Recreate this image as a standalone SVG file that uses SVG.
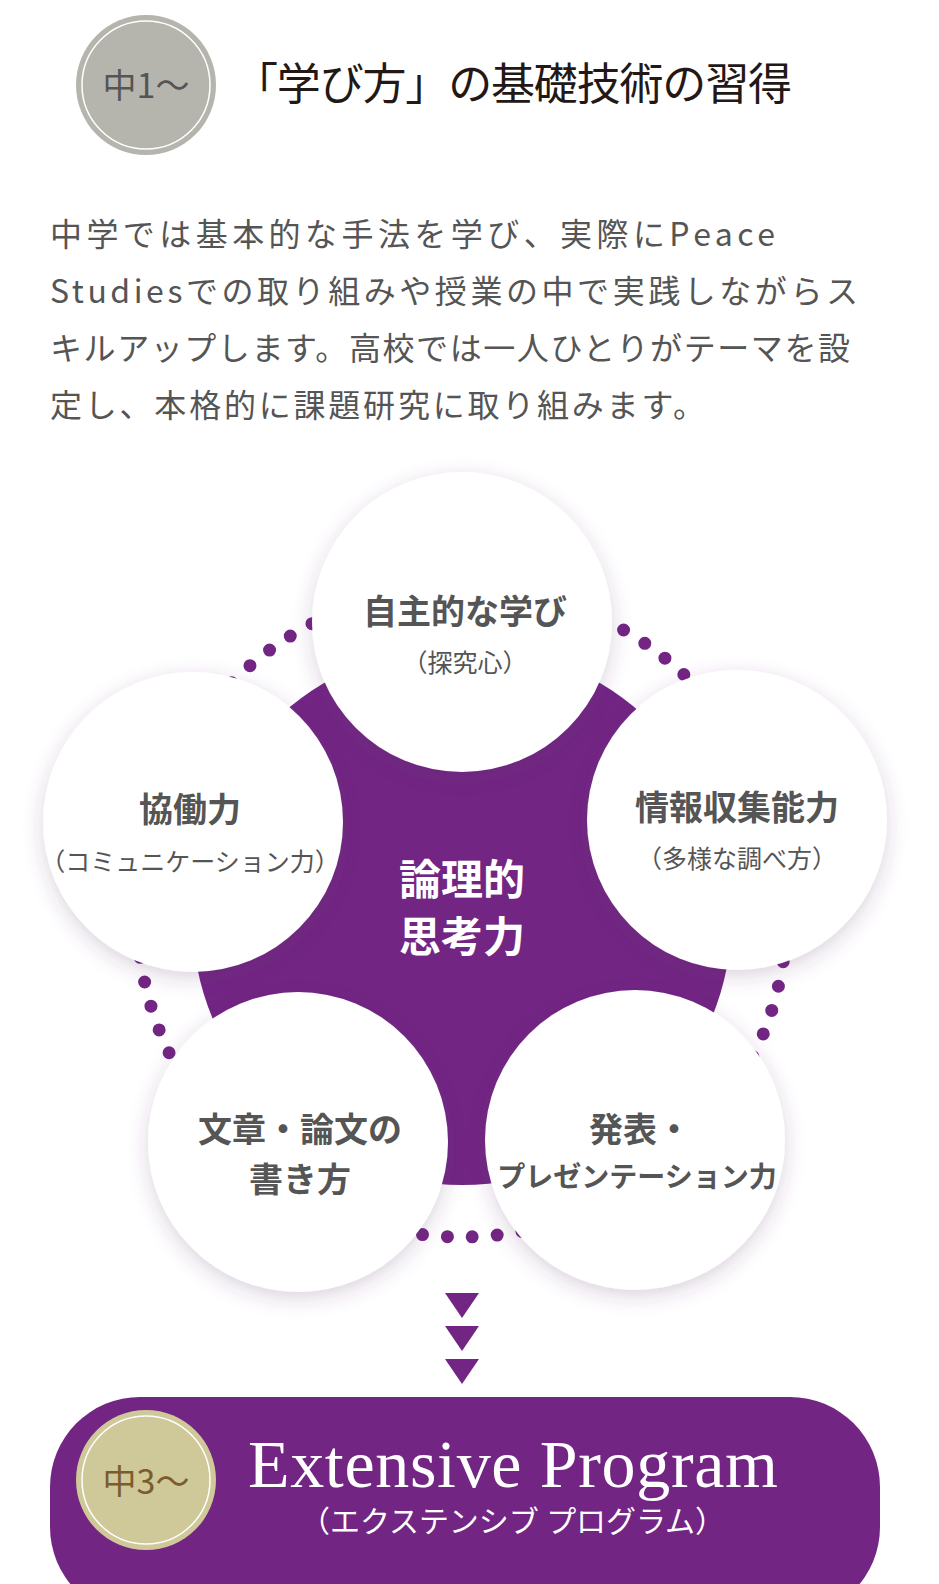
<svg xmlns="http://www.w3.org/2000/svg" width="939" height="1584" viewBox="0 0 939 1584">
<defs>
<filter id="sh" x="-30%" y="-30%" width="160%" height="160%"><feDropShadow dx="0" dy="6" stdDeviation="10" flood-color="#5a3a6a" flood-opacity="0.22"/></filter>
</defs>
<style>
.jp{font-family:"Noto Sans CJK JP","Noto Sans",sans-serif}
.nb{font-family:"Noto Sans CJK JP",sans-serif;font-weight:bold;fill:#555;text-anchor:middle}
.ns{font-family:"Noto Sans CJK JP",sans-serif;fill:#555;text-anchor:middle}
.wc{fill:#fff;filter:url(#sh)}
</style>
<rect width="939" height="1584" fill="#fff"/>
<g id="header">
<circle cx="146" cy="85" r="70" fill="#b5b5ae"/>
<circle cx="146" cy="85" r="64" fill="none" stroke="#fff" stroke-width="1.5"/>
<text x="146" y="98" class="jp" font-size="34" fill="#555" text-anchor="middle">中1～</text>
<text x="234" y="100" font-family="'Liberation Serif','Noto Sans CJK JP',serif" font-size="44" fill="#231815" textLength="558">「学び方」の基礎技術の習得</text>
</g>
<g id="intro" class="jp" font-size="32" fill="#555">
<text x="50" y="246" textLength="725">中学では基本的な手法を学び、実際にPeace</text>
<text x="50" y="303" textLength="808">Studiesでの取り組みや授業の中で実践しながらス</text>
<text x="50" y="360" textLength="800">キルアップします。高校では一人ひとりがテーマを設</text>
<text x="50" y="417" textLength="655">定し、本格的に課題研究に取り組みます。</text>
</g>
<g id="connectors">
<circle cx="462" cy="912" r="325" fill="none" stroke="#722583" stroke-width="13" stroke-linecap="round" stroke-dasharray="0 25"/>
</g>
<g id="core">
<circle cx="462" cy="915" r="270" fill="#722583"/>
<text x="462" y="895" class="jp" font-weight="bold" font-size="42" fill="#fff" text-anchor="middle">論理的</text>
<text x="462" y="952" class="jp" font-weight="bold" font-size="42" fill="#fff" text-anchor="middle">思考力</text>
</g>
<g id="n1"><circle class="wc" cx="462" cy="622" r="150"/>
<text x="465" y="624" class="nb" font-size="34">自主的な学び</text>
<text x="465" y="672" class="ns" font-size="25">（探究心）</text></g>
<g id="n2"><circle class="wc" cx="193" cy="822" r="150"/>
<text x="190" y="822" class="nb" font-size="34">協働力</text>
<text x="190" y="871" class="ns" font-size="25">（コミュニケーション力）</text></g>
<g id="n3"><circle class="wc" cx="737" cy="820" r="150"/>
<text x="737" y="820" class="nb" font-size="34">情報収集能力</text>
<text x="737" y="868" class="ns" font-size="25">（多様な調べ方）</text></g>
<g id="n4"><circle class="wc" cx="298" cy="1142" r="150"/>
<text x="300" y="1142" class="nb" font-size="34">文章・論文の</text>
<text x="300" y="1192" class="nb" font-size="34">書き方</text></g>
<g id="n5"><circle class="wc" cx="635" cy="1140" r="150"/>
<text x="640" y="1142" class="nb" font-size="34">発表・</text>
<text x="637" y="1187" class="nb" font-size="28">プレゼンテーション力</text></g>
<g id="arrows" fill="#722583">
<polygon points="445,1293 479,1293 462,1318"/>
<polygon points="445,1326 479,1326 462,1351"/>
<polygon points="445,1359 479,1359 462,1384"/>
</g>
<g id="program">
<rect x="50" y="1397" width="830" height="220" rx="90" fill="#722583"/>
<circle cx="146" cy="1480" r="70" fill="#cfc899"/>
<circle cx="146" cy="1480" r="64" fill="none" stroke="#fff" stroke-width="1.5"/>
<text x="146" y="1494" class="jp" font-size="34" fill="#7a5c2e" text-anchor="middle">中3～</text>
<text x="248" y="1487" font-family="'Liberation Serif',serif" font-size="68" fill="#fff" textLength="530">Extensive Program</text>
<text x="300" y="1532" font-family="'Liberation Serif','Noto Sans CJK JP',serif" font-size="30" fill="#fff" textLength="425">（エクステンシブ プログラム）</text>
</g>
</svg>
